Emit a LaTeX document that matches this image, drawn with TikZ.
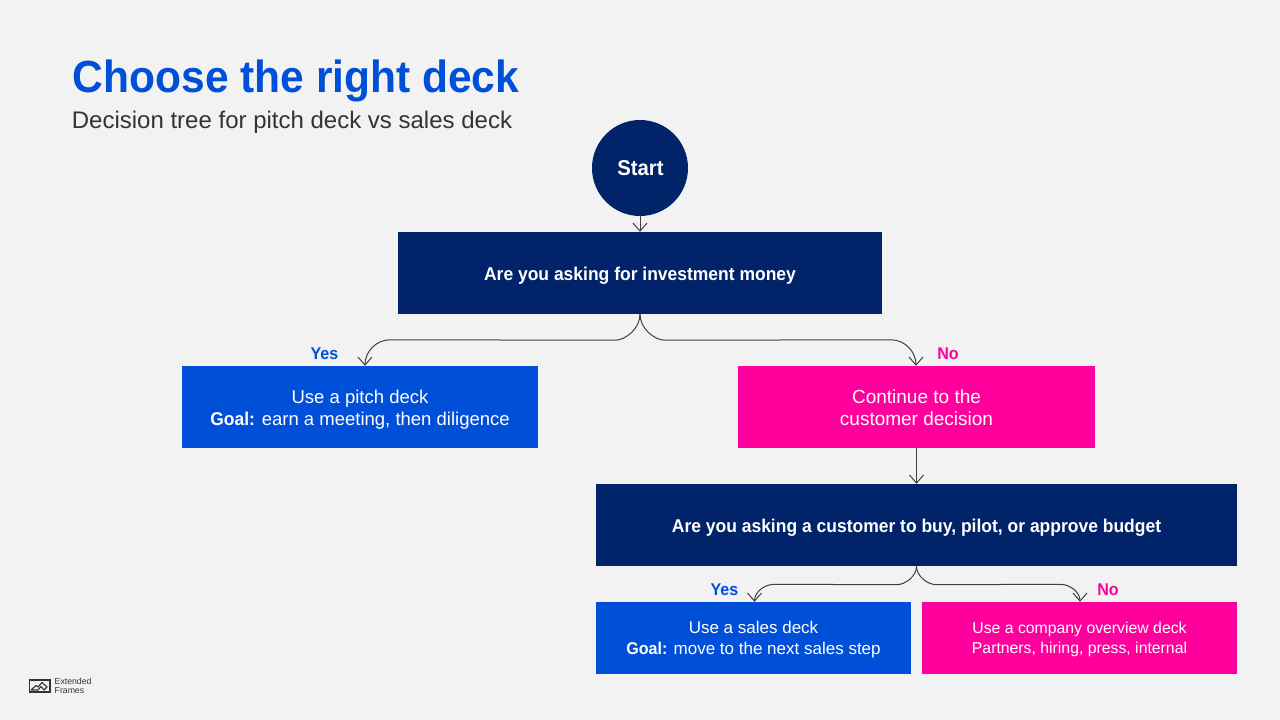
\documentclass[tikz,border=0pt]{standalone}
\usepackage{fontspec}
\setmainfont{Liberation Sans}[BoldFeatures={FakeStretch=0.945}]
\usetikzlibrary{arrows.meta,calc}
\definecolor{bgc}{HTML}{F2F2F2}
\definecolor{navy}{HTML}{00236A}
\definecolor{blu}{HTML}{004FD9}
\definecolor{pnk}{HTML}{FF009D}
\definecolor{ink}{HTML}{333333}
\definecolor{wire}{HTML}{404040}
\newcommand{\dn}[1]{\rule{0pt}{#1pt}}
\tikzset{
  x=1pt,y=-1pt,
  box/.style={rectangle,inner sep=0pt,text=white,align=center,anchor=center},
  navybox/.style={box,fill=navy,font=\bfseries\fontsize{18.5}{22}\selectfont},
  bluebox/.style={box,fill=blu},
  pinkbox/.style={box,fill=pnk},
  wirestyle/.style={draw=wire,line width=1pt,-{Straight Barb[length=8pt,width=14pt,line width=1pt]}},
  lab/.style={inner sep=0pt,font=\bfseries\fontsize{17}{20}\selectfont,anchor=center},
}
\begin{document}
\begin{tikzpicture}
\useasboundingbox (0,0) rectangle (1280,720);
\fill[bgc] (0,0) rectangle (1280,720);
\node[inner sep=0pt,anchor=center,text=blu,font=\bfseries\fontsize{45}{54}\selectfont] (title) at (296,81) {Choose the right deck};
\node[inner sep=0pt,anchor=center,text=ink,font=\fontsize{24}{29}\selectfont] (sub) at (292,122) {Decision tree for pitch deck vs sales deck};
\node[circle,fill=navy,text=white,minimum size=96pt,inner sep=0pt,font=\bfseries\fontsize{21.5}{24}\selectfont] (start) at (640,168) {\hspace{1pt}Start};
\node[navybox,minimum width=484pt,minimum height=82pt] (q1) at (640,273) {\dn{18}Are you asking for investment money};
\node[bluebox,minimum width=356pt,minimum height=82pt,font=\fontsize{18.5}{22}\selectfont] (pitch) at (360,407) {\dn{19}Use a pitch deck\\[0pt]\textbf{Goal:} earn a meeting, then diligence};
\node[pinkbox,minimum width=357pt,minimum height=82pt,font=\fontsize{19}{22}\selectfont] (cont) at (916.5,407) {\dn{16}Continue to the\\[0pt]customer decision};
\node[navybox,minimum width=641pt,minimum height=82pt] (q2) at (916.5,525) {\dn{18}Are you asking a customer to buy, pilot, or approve budget};
\node[bluebox,minimum width=315pt,minimum height=72pt,font=\fontsize{17}{21}\selectfont] (sales) at (753.5,638) {\dn{16}Use a sales deck\\[0pt]\textbf{Goal:} move to the next sales step};
\node[pinkbox,minimum width=315pt,minimum height=72pt,font=\fontsize{15.8}{20}\selectfont] (over) at (1079.5,638) {\dn{15}Use a company overview deck\\[0pt]Partners, hiring, press, internal};
\node[lab,text=blu] (y1) at (324.5,354) {Yes};
\node[lab,text=pnk] (n1) at (948,354) {No};
\node[lab,text=blu] (y2) at (724.5,590) {Yes};
\node[lab,text=pnk] (n2) at (1108,590) {No};
\draw[wirestyle] (start.south) -- (q1.north);
\draw[wirestyle] (cont.south) -- (q2.north);
\coordinate (a1) at ($(pitch.north)+(5,0)$);
\coordinate (a2) at ($(cont.north)+(-0.5,0)$);
\draw[wirestyle] (q1.south) .. controls +(0,14) and +(11,0) .. ($(q1.south)+(-25,26)$) -- ($(a1)+(25,-26)$) .. controls +(-14,0) and +(0,-14) .. (a1);
\draw[wirestyle] (q1.south) .. controls +(0,14) and +(-11,0) .. ($(q1.south)+(25,26)$) -- ($(a2)+(-25,-26)$) .. controls +(14,0) and +(0,-14) .. (a2);
\coordinate (b1) at ($(sales.north)+(1,0)$);
\coordinate (b2) at ($(over.north)+(0.5,0)$);
\draw[wirestyle] (q2.south) .. controls +(0,10) and +(9,0) .. ($(q2.south)+(-20,18.5)$) -- ($(b1)+(20,-17.5)$) .. controls +(-11,0) and +(0,-9) .. (b1);
\draw[wirestyle] (q2.south) .. controls +(0,10) and +(-9,0) .. ($(q2.south)+(20,18.5)$) -- ($(b2)+(-20,-17.5)$) .. controls +(11,0) and +(0,-9) .. (b2);
% logo
\draw[ink,line width=1.3pt] (29.5,680) rectangle (50,692);
\draw[ink,line width=1.1pt,line join=round] (31,690) -- (36,685.5) -- (38,687) -- (42,682.5) -- (47,687) -- (44,690) -- (41,686.5) -- (38,690) -- cycle;
\node[inner sep=0pt,anchor=west,text=ink,align=left,font=\fontsize{8.7}{9}\selectfont] (logo) at (54.5,686) {Extended\\[0pt]Frames};
\end{tikzpicture}
\end{document}
